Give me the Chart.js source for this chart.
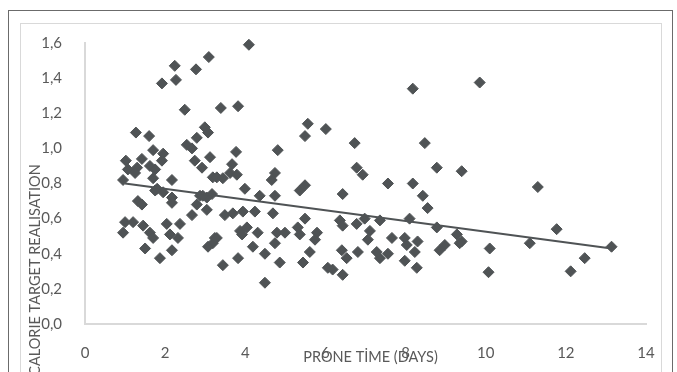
<!DOCTYPE html>
<html lang="en">
<head>
    <meta charset="UTF-8">
    <title>Calorie target realisation vs prone time</title>
    <script src="https://cdn.jsdelivr.net/npm/chart.js"></script>
    <style>
        body {
            margin: 0;
            background-color: #fff;
            width: 677px;
            height: 372px;
            overflow: hidden;
            position: relative;
        }

        .frame-outer {
            position: absolute;
            left: 8px;
            top: 10px;
            width: 663px;
            height: 400px;
            border: 1px solid #6b6b6b;
        }

        .frame-inner {
            position: absolute;
            left: 20px;
            top: 23px;
            width: 640px;
            height: 400px;
            border: 1px solid #d9d9d9;
        }

        #wrap {
            position: absolute;
            left: 0;
            top: 0;
            width: 677px;
            height: 372px;
        }
    </style>
</head>
<body>
    <div class="frame-outer"></div>
    <div class="frame-inner"></div>

    <div id="wrap">
        <canvas id="scatter-chart"></canvas>
    </div>

    <script>
        // prone time (days) per patient
        const proneDays = [
            4.09, 3.09, 2.24, 2.77, 2.27, 1.92, 2.49, 3.39, 3.82, 2.99,
            3.07, 1.27, 1.60, 2.79, 2.54, 2.67, 3.77, 4.81, 1.70, 1.95,
            3.12, 2.74, 1.92, 1.02, 1.42, 1.62, 2.92, 1.30, 1.07, 1.25,
            1.75, 0.95, 1.70, 2.17, 3.19, 1.80, 1.95, 2.17, 1.32, 2.87,
            3.04, 3.17, 3.67, 3.62, 3.29, 3.44, 3.79, 4.74, 4.66, 3.99,
            4.36, 4.74, 5.49, 5.36, 5.49, 5.56, 6.01, 1.00, 1.20, 0.95,
            1.45, 1.62, 1.70, 1.50, 1.87, 2.17, 2.04, 2.12, 2.32, 2.37,
            2.67, 2.79, 3.04, 1.42, 2.17, 3.19, 3.29, 3.07, 1.75, 2.94,
            3.49, 3.69, 3.94, 4.24, 4.69, 3.24, 3.87, 4.04, 3.92, 4.31,
            4.19, 4.49, 4.79, 4.99, 4.74, 5.49, 5.31, 5.79, 5.74, 5.61,
            5.44, 3.44, 3.82, 4.86, 4.49, 6.06, 8.18, 6.73, 8.48, 8.78,
            9.40, 6.78, 6.93, 7.56, 8.18, 8.43, 8.55, 6.43, 6.36, 6.43,
            6.78, 6.98, 7.36, 8.10, 8.78, 9.28, 9.35, 7.11, 7.06, 7.66,
            7.98, 8.03, 8.30, 8.23, 6.81, 7.28, 7.36, 7.56, 6.41, 6.53,
            7.98, 8.28, 8.85, 8.98, 6.18, 6.43, 5.36, 9.85, 11.30, 11.77,
            9.40, 10.10, 10.07, 11.10, 12.47, 12.12, 13.14
        ];

        // calorie target realisation (fraction)
        const calorieRealisation = [
            1.59, 1.52, 1.47, 1.45, 1.39, 1.37, 1.22, 1.23, 1.24, 1.12,
            1.09, 1.09, 1.07, 1.06, 1.02, 1.00, 0.98, 0.99, 0.99, 0.97,
            0.95, 0.93, 0.93, 0.93, 0.94, 0.90, 0.89, 0.89, 0.88, 0.86,
            0.88, 0.82, 0.83, 0.82, 0.835, 0.77, 0.75, 0.72, 0.70, 0.73,
            0.72, 0.74, 0.91, 0.86, 0.835, 0.83, 0.85, 0.86, 0.82, 0.77,
            0.73, 0.73, 0.79, 0.76, 1.07, 1.14, 1.11, 0.58, 0.58, 0.52,
            0.56, 0.52, 0.49, 0.43, 0.375, 0.42, 0.57, 0.51, 0.49, 0.57,
            0.62, 0.68, 0.65, 0.68, 0.69, 0.46, 0.49, 0.44, 0.76, 0.73,
            0.62, 0.63, 0.64, 0.64, 0.63, 0.49, 0.53, 0.55, 0.51, 0.52,
            0.44, 0.40, 0.52, 0.52, 0.46, 0.60, 0.55, 0.52, 0.48, 0.41,
            0.35, 0.335, 0.375, 0.35, 0.235, 0.32, 1.34, 1.03, 1.03, 0.89,
            0.87, 0.89, 0.85, 0.80, 0.80, 0.73, 0.66, 0.74, 0.59, 0.56,
            0.57, 0.60, 0.59, 0.60, 0.55, 0.51, 0.46, 0.53, 0.48, 0.49,
            0.49, 0.45, 0.47, 0.41, 0.41, 0.41, 0.375, 0.40, 0.42, 0.375,
            0.36, 0.32, 0.42, 0.45, 0.31, 0.28, 0.51, 1.375, 0.78, 0.54,
            0.47, 0.43, 0.295, 0.46, 0.375, 0.30, 0.44
        ];

        // linear trendline
        const trendX = [1.0, 13.14];
        const trendY = [0.80, 0.43];

        const xTicks = [0, 2, 4, 6, 8, 10, 12, 14];
        const yTicks = [0, 0.2, 0.4, 0.6, 0.8, 1.0, 1.2, 1.4, 1.6];

        const xTitle = "PRONE TİME (DAYS)";
        const yTitle = "CALORIE TARGET REALISATION";

        const markColor = "#4f5355";
        const labelColor = "#595959";
        const fontName = "Lato, 'Open Sans', sans-serif";

        const points = proneDays.map((d, i) => ({ x: d, y: calorieRealisation[i] }));
        const trend = trendX.map((d, i) => ({ x: d, y: trendY[i] }));

        // axis titles sit where Excel put them, not centred on the axes
        const axisTitles = {
            id: "axisTitles",
            afterDraw(chart) {
                const c = chart.ctx;
                c.save();
                c.fillStyle = labelColor;
                c.font = "14.5px " + fontName;
                c.textAlign = "center";
                c.textBaseline = "middle";
                c.fillText(xTitle, (chart.chartArea.left + chart.chartArea.right) / 2 + 5, 357);
                c.translate(35, 270);
                c.rotate(-Math.PI / 2);
                c.fillText(yTitle, 0, 0);
                c.restore();
            }
        };

        Chart.defaults.font.family = fontName;
        Chart.defaults.font.size = 15;
        Chart.defaults.color = labelColor;

        new Chart(document.getElementById("scatter-chart"), {
            type: "scatter",
            data: {
                datasets: [
                    {
                        label: "trend",
                        type: "line",
                        data: trend,
                        borderColor: markColor,
                        borderWidth: 2,
                        pointRadius: 0,
                        fill: false,
                        order: 1
                    },
                    {
                        label: "patients",
                        data: points,
                        pointStyle: "rectRot",
                        pointRadius: 5.5,
                        pointBorderWidth: 1,
                        backgroundColor: markColor,
                        borderColor: markColor,
                        clip: false,
                        order: 2
                    }
                ]
            },
            options: {
                responsive: true,
                maintainAspectRatio: false,
                animation: false,
                layout: {
                    padding: { top: 43, right: 31, left: 0, bottom: 0 }
                },
                plugins: {
                    legend: { display: false },
                    tooltip: { enabled: false }
                },
                scales: {
                    x: {
                        type: "linear",
                        min: 0,
                        max: 14,
                        afterBuildTicks: s => { s.ticks = xTicks.map(v => ({ value: v })); },
                        afterFit: s => { s.height = 48; },
                        grid: { display: false },
                        border: { color: "#d9d9d9", width: 2 },
                        ticks: { padding: 12, color: labelColor }
                    },
                    y: {
                        min: 0,
                        max: 1.6,
                        afterBuildTicks: s => { s.ticks = yTicks.map(v => ({ value: v })); },
                        afterFit: s => { s.width = 85; },
                        grid: { display: false },
                        border: { color: "#d9d9d9", width: 2 },
                        ticks: {
                            padding: 15,
                            color: labelColor,
                            callback: v => v.toFixed(1).replace(".", ",")
                        }
                    }
                }
            },
            plugins: [axisTitles]
        });
    </script>
</body>
</html>
